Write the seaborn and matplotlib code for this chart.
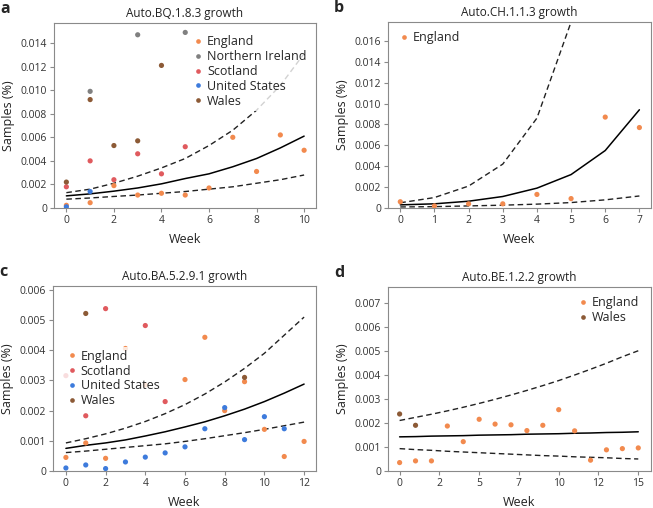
import matplotlib.pyplot as plt
import pandas as pd
import seaborn as sns
from matplotlib.ticker import FuncFormatter

sns.set_style("white")
plt.rcParams["font.family"] = ["Open Sans", "DejaVu Sans"]
plt.rcParams["font.size"] = 7.5

colors = {"England": "#f28a4e", "Northern Ireland": "#808080", "Scotland": "#e05a5e",
          "United States": "#3d7bdc", "Wales": "#8c5a36"}

# panel a: Auto.BQ.1.8.3
a_country = ["England"] * 11 + ["Northern Ireland"] * 3 + ["Scotland"] * 6 + ["United States"] * 2 + ["Wales"] * 5
a_week = [0, 1, 2, 3, 4, 5, 6, 7, 8, 9, 10, 1, 3, 5, 0, 1, 2, 3, 4, 5, 0, 1, 0, 1, 2, 3, 4]
a_pct = [0.00023, 0.00045, 0.0019, 0.0011, 0.00125, 0.0011, 0.0017, 0.006, 0.0031, 0.0062, 0.0049,
         0.0099, 0.0147, 0.0149,
         0.0018, 0.004, 0.0024, 0.0046, 0.0029, 0.0052,
         0.0001, 0.0014,
         0.0022, 0.0092, 0.0053, 0.0057, 0.0121]
a_fit_week = [0, 1, 2, 3, 4, 5, 6, 7, 8, 9, 10]
a_fit = [0.00103, 0.0012, 0.00143, 0.0017, 0.00205, 0.0025, 0.0029, 0.0035, 0.0042, 0.0051, 0.0061]
a_hi = [0.0013, 0.0016, 0.0021, 0.0027, 0.0034, 0.0042, 0.0053, 0.0066, 0.0083, 0.0104, 0.0131]
a_lo = [0.00075, 0.00085, 0.00098, 0.0011, 0.00125, 0.0014, 0.0016, 0.0018, 0.0021, 0.0024, 0.0028]

# panel b: Auto.CH.1.1.3
b_country = ["England"] * 8
b_week = [0, 1, 2, 3, 4, 5, 6, 7]
b_pct = [0.0006, 0.0002, 0.0004, 0.0004, 0.0013, 0.0009, 0.0087, 0.0077]
b_fit_week = [0, 1, 2, 3, 4, 5, 6, 7]
b_fit = [0.0003, 0.0004, 0.00065, 0.0011, 0.0019, 0.0032, 0.0055, 0.0094]
b_hi = [0.0005, 0.001, 0.0021, 0.0042, 0.0086, 0.0178, 0.036, 0.07]
b_lo = [0.0001, 0.00013, 0.0002, 0.00027, 0.00037, 0.00052, 0.00078, 0.00115]

# panel c: Auto.BA.5.2.9.1
c_country = ["England"] * 12 + ["Scotland"] * 5 + ["United States"] * 12 + ["Wales"] * 2
c_week = [0, 1, 2, 3, 4, 6, 7, 8, 9, 10, 11, 12,
          0, 1, 2, 4, 5,
          0, 1, 2, 3, 4, 5, 6, 7, 8, 9, 10, 11,
          1, 9]
c_pct = [0.00045, 0.00093, 0.00042, 0.00406, 0.00285, 0.00303, 0.00443, 0.002, 0.00296, 0.00138, 0.00048, 0.00098,
         0.00316, 0.00183, 0.00538, 0.00482, 0.0023,
         0.0001, 0.0002, 0.00008, 0.0003, 0.00046, 0.0006, 0.0008, 0.0014, 0.0021, 0.00104, 0.0018, 0.0014,
         0.00522, 0.0031]
c_fit_week = [0, 1, 2, 3, 4, 5, 6, 7, 8, 9, 10, 11, 12]
c_fit = [0.00075, 0.00085, 0.00093, 0.00103, 0.00116, 0.0013, 0.00146, 0.00163, 0.00183, 0.00205, 0.0023, 0.00258, 0.00288]
c_hi = [0.00093, 0.00107, 0.00123, 0.00142, 0.00164, 0.0019, 0.0022, 0.00255, 0.00295, 0.0034, 0.0039, 0.0045, 0.0051]
c_lo = [0.00061, 0.00066, 0.00072, 0.00078, 0.00084, 0.0009, 0.00098, 0.00107, 0.00117, 0.00127, 0.00138, 0.0015, 0.00162]

# panel d: Auto.BE.1.2.2
d_country = ["England"] * 16 + ["Wales"] * 2
d_week = list(range(16)) + [0, 1]
d_pct = [0.00035, 0.00042, 0.00042, 0.00187, 0.00122, 0.00215, 0.00195, 0.00192, 0.00168, 0.0019, 0.00255,
         0.00167, 0.00045, 0.00088, 0.00093, 0.00096,
         0.00237, 0.0019]
d_fit_week = list(range(16))
d_fit = [0.00142, 0.00143, 0.00145, 0.00146, 0.00147, 0.00149, 0.0015, 0.00151, 0.00153, 0.00154, 0.00155,
         0.00157, 0.00158, 0.0016, 0.00161, 0.00163]
d_hi = [0.0021, 0.00223, 0.00236, 0.0025, 0.00265, 0.00281, 0.00298, 0.00316, 0.00335, 0.00355, 0.00376,
        0.00399, 0.00423, 0.00448, 0.00475, 0.005]
d_lo = [0.00093, 0.00089, 0.00086, 0.00082, 0.00079, 0.00076, 0.00073, 0.0007, 0.00067, 0.00064, 0.00062,
        0.00059, 0.00057, 0.00055, 0.00052, 0.0005]
d_xticks = [0, 2.5, 5, 7.5, 10, 12.5, 15]
d_xticklabels = ["0", "2", "5", "7", "10", "12", "15"]

panels = [
    ("a", "Auto.BQ.1.8.3 growth", a_country, a_week, a_pct, a_fit_week, a_fit, a_hi, a_lo),
    ("b", "Auto.CH.1.1.3 growth", b_country, b_week, b_pct, b_fit_week, b_fit, b_hi, b_lo),
    ("c", "Auto.BA.5.2.9.1 growth", c_country, c_week, c_pct, c_fit_week, c_fit, c_hi, c_lo),
    ("d", "Auto.BE.1.2.2 growth", d_country, d_week, d_pct, d_fit_week, d_fit, d_hi, d_lo),
]
# [left, bottom, width, height] in figure fraction
boxes = {
    "a": [54 / 653, 1 - 208 / 508, 262 / 653, 185 / 508],
    "b": [388 / 653, 1 - 208 / 508, 263 / 653, 186 / 508],
    "c": [53 / 653, 1 - 471 / 508, 263 / 653, 185 / 508],
    "d": [388 / 653, 1 - 471 / 508, 263 / 653, 184 / 508],
}
xlims = {"a": (-0.52, 10.5), "b": (-0.36, 7.34), "c": (-0.65, 12.6), "d": (-0.73, 15.8)}
ylims = {"a": (0, 0.0157), "b": (0, 0.0178), "c": (0, 0.00613), "d": (0, 0.00765)}
yticks = {"a": [0, 0.002, 0.004, 0.006, 0.008, 0.010, 0.012, 0.014],
          "b": [0, 0.002, 0.004, 0.006, 0.008, 0.010, 0.012, 0.014, 0.016],
          "c": [0, 0.001, 0.002, 0.003, 0.004, 0.005, 0.006],
          "d": [0, 0.001, 0.002, 0.003, 0.004, 0.005, 0.006, 0.007]}
legend_loc = {"a": dict(loc="upper right", bbox_to_anchor=(1.0, 0.985)),
              "b": dict(loc="upper left", bbox_to_anchor=(0.0, 1.0)),
              "c": dict(loc="center left", bbox_to_anchor=(0.012, 0.5)),
              "d": dict(loc="upper right", bbox_to_anchor=(0.99, 1.0))}

fig = plt.figure(figsize=(6.53, 5.08), dpi=100)
for tag, title, country, week, pct, fw, fit, hi, lo in panels:
    ax = fig.add_axes(boxes[tag])
    pts = pd.DataFrame({"week": week, "pct": pct, "country": country})
    order = [k for k in colors if k in country]
    sns.scatterplot(data=pts, x="week", y="pct", hue="country", hue_order=order, palette=colors,
                    s=14, linewidth=0, ax=ax, zorder=3)
    fits = pd.DataFrame({"week": fw, "fit": fit, "hi": hi, "lo": lo})
    sns.lineplot(data=fits, x="week", y="fit", color="black", lw=1.1, ax=ax, zorder=2)
    sns.lineplot(data=fits, x="week", y="hi", color="#222222", lw=1.0, ls=(0, (4, 2.5)), ax=ax, zorder=2)
    sns.lineplot(data=fits, x="week", y="lo", color="#222222", lw=1.0, ls=(0, (4, 2.5)), ax=ax, zorder=2)
    ax.set_xlim(*xlims[tag])
    ax.set_ylim(*ylims[tag])
    ax.set_yticks(yticks[tag])
    ax.yaxis.set_major_formatter(FuncFormatter(lambda v, p: "0" if v == 0 else f"{v:.3f}"))
    if tag == "d":
        ax.set_xticks(d_xticks)
        ax.set_xticklabels(d_xticklabels)
    ax.set_xlabel("Week", fontsize=9, color="#222222", labelpad=5)
    ax.set_ylabel("Samples (%)", fontsize=9, color="#222222")
    ax.set_title(title, fontsize=8.5, color="#222222", pad=4)
    for s in ax.spines.values():
        s.set_color("#8a8a8a")
        s.set_linewidth(0.8)
    ax.tick_params(axis="both", length=3, width=0.8, color="#8a8a8a", labelsize=7.5, labelcolor="#333333",
                   direction="out", bottom=True, left=True, pad=2)
    leg = ax.legend(frameon=True, framealpha=0.8, edgecolor="none", fontsize=9, handletextpad=0.2,
                    labelspacing=0.15, borderpad=0.25, handlelength=1.0, markerscale=0.9, **legend_loc[tag])
    leg.set_zorder(5)
    fig.text(boxes[tag][0] - 54 / 653, boxes[tag][1] + boxes[tag][3] + 0.012, tag,
             fontsize=11.5, fontweight="bold", va="bottom", ha="left")

fig.savefig("out.png", dpi=100)
